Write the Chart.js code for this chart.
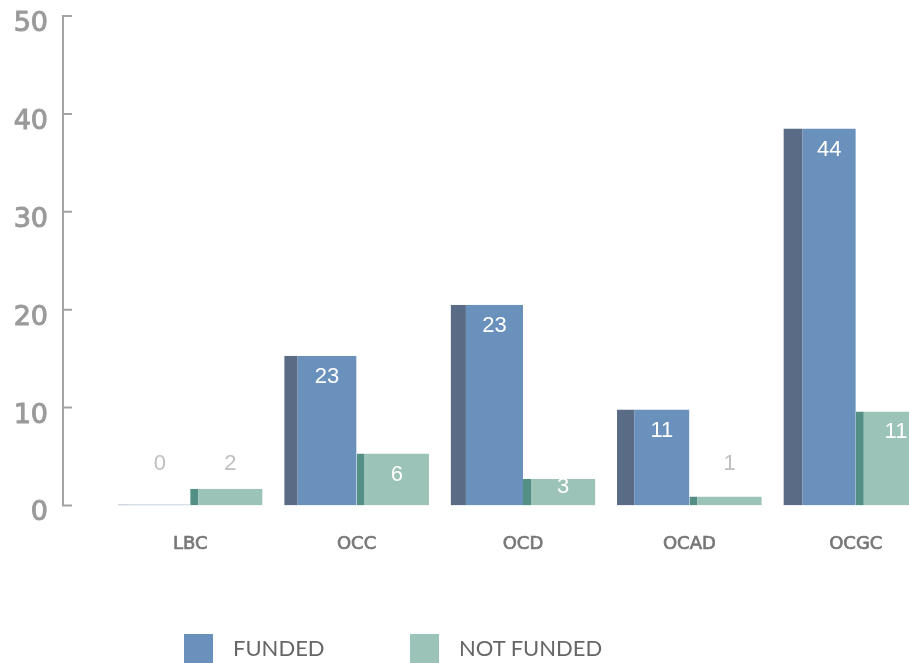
<!DOCTYPE html>
<html>
<head>
<meta charset="utf-8">
<title>Funded vs not funded</title>
<script src="https://cdn.jsdelivr.net/npm/chart.js@4.4.0/dist/chart.umd.min.js"></script>
<style>
  html, body { margin: 0; padding: 0; background: #fff; overflow: hidden; }
  #wrap { position: relative; width: 909px; height: 663px; overflow: hidden; }
  #fundingChart { position: absolute; left: 0; top: 0; }
  .legend-box { position: absolute; top: 634px; width: 29px; height: 29px; }
  .legend-text { position: absolute; top: 634px; line-height: 29px; font: 22px Lato, sans-serif; color: #666; white-space: nowrap; }
</style>
</head>
<body>
<div id="wrap">
  <canvas id="fundingChart" width="950" height="663"></canvas>
  <div class="legend-box" style="left:184px;background:#6a91bc"></div>
  <div class="legend-text" style="left:233px">FUNDED</div>
  <div class="legend-box" style="left:410px;background:#9cc3b7"></div>
  <div class="legend-text" style="left:459px">NOT FUNDED</div>
</div>
<script>
const categories = ['LBC', 'OCC', 'OCD', 'OCAD', 'OCGC'];
// bar heights as drawn (axis units)
const fundedBars = [0, 15.3, 20.5, 9.8, 38.5];
const notFundedBars = [1.7, 5.3, 2.7, 0.9, 9.6];
// numbers printed on the bars
const fundedLabels = ['0', '23', '23', '11', '44'];
const notFundedLabels = ['2', '6', '3', '1', '11'];
const yTicks = [0, 10, 20, 30, 40, 50];

// width of the dark "3d" side face on each bar
function sideWidth(datasetIndex, index) {
    return datasetIndex === 0 ? 11.5 + 1.9 * index : 8;
}

const axisLine = {
    id: 'axisLine',
    afterDraw(chart) {
        const y = chart.scales.y;
        const ctx = chart.ctx;
        const x = chart.chartArea.left - 44;
        ctx.save();
        ctx.strokeStyle = '#a3a3a3';
        ctx.lineWidth = 2;
        ctx.beginPath();
        ctx.moveTo(x, y.getPixelForValue(y.max) - 1);
        ctx.lineTo(x, y.getPixelForValue(y.min) + 1);
        y.ticks.forEach(t => {
            const py = y.getPixelForValue(t.value);
            ctx.moveTo(x, py);
            ctx.lineTo(x + 9, py);
        });
        ctx.stroke();
        ctx.restore();
    }
};

const valueLabels = {
    id: 'valueLabels',
    afterDatasetsDraw(chart) {
        const ctx = chart.ctx;
        ctx.save();
        ctx.font = '22px "Liberation Sans", Arial, sans-serif';
        ctx.textAlign = 'center';
        ctx.textBaseline = 'middle';
        chart.data.datasets.forEach((ds, i) => {
            chart.getDatasetMeta(i).data.forEach((bar, j) => {
                const h = bar.base - bar.y;
                const cx = bar.x + sideWidth(i, j) / 2;
                const inside = h >= 20;
                const ty = inside ? Math.min(bar.y + 21, bar.base - 18) : bar.base - 41;
                ctx.fillStyle = inside ? '#ffffff' : '#bfbfbf';
                ctx.fillText(ds.valueLabels[j], cx, ty);
            });
        });
        ctx.restore();
    }
};

const ctx = document.getElementById('fundingChart');

const fundingChart = new Chart(ctx, {
    type: 'bar',
    data: {
        labels: categories,
        datasets: [{
            label: 'FUNDED',
            data: fundedBars,
            valueLabels: fundedLabels,
            backgroundColor: '#6a91bc',
            borderColor: '#5a6c85',
            borderWidth: c => ({ top: 0, right: 0, bottom: 0, left: sideWidth(0, c.dataIndex) }),
            minBarLength: 1,
        }, {
            label: 'NOT FUNDED',
            data: notFundedBars,
            valueLabels: notFundedLabels,
            backgroundColor: '#9cc3b7',
            borderColor: '#538f85',
            borderWidth: c => ({ top: 0, right: 0, bottom: 0, left: sideWidth(1, c.dataIndex) }),
            minBarLength: 1,
        }],
    },
    options: {
        responsive: false,
        animation: false,
        events: [],
        categoryPercentage: 0.87,
        barPercentage: 1,
        layout: {
            padding: { left: 0, top: 16, right: 11, bottom: 80 }
        },
        plugins: {
            legend: { display: false },
            tooltip: { enabled: false }
        },
        scales: {
            x: {
                grid: { display: false, drawTicks: false },
                border: { display: false },
                ticks: {
                    color: '#777',
                    font: { family: 'DejaVu Sans', size: 18 },
                    textStrokeColor: '#777',
                    textStrokeWidth: 0.7,
                    padding: 28
                }
            },
            y: {
                min: yTicks[0],
                max: yTicks[yTicks.length - 1],
                grid: { display: false, drawTicks: false },
                border: { display: false },
                ticks: {
                    stepSize: yTicks[1] - yTicks[0],
                    color: '#9a9a9a',
                    font: { family: 'DejaVu Sans', size: 27, lineHeight: 1 },
                    textStrokeColor: '#9a9a9a',
                    textStrokeWidth: 1,
                    padding: 59,
                    labelOffset: 8
                },
                afterFit(scale) {
                    scale.width = 107;
                    scale.paddingTop = 0;
                    scale.paddingBottom = 0;
                }
            }
        }
    },
    plugins: [axisLine, valueLabels]
});
</script>
</body>
</html>
